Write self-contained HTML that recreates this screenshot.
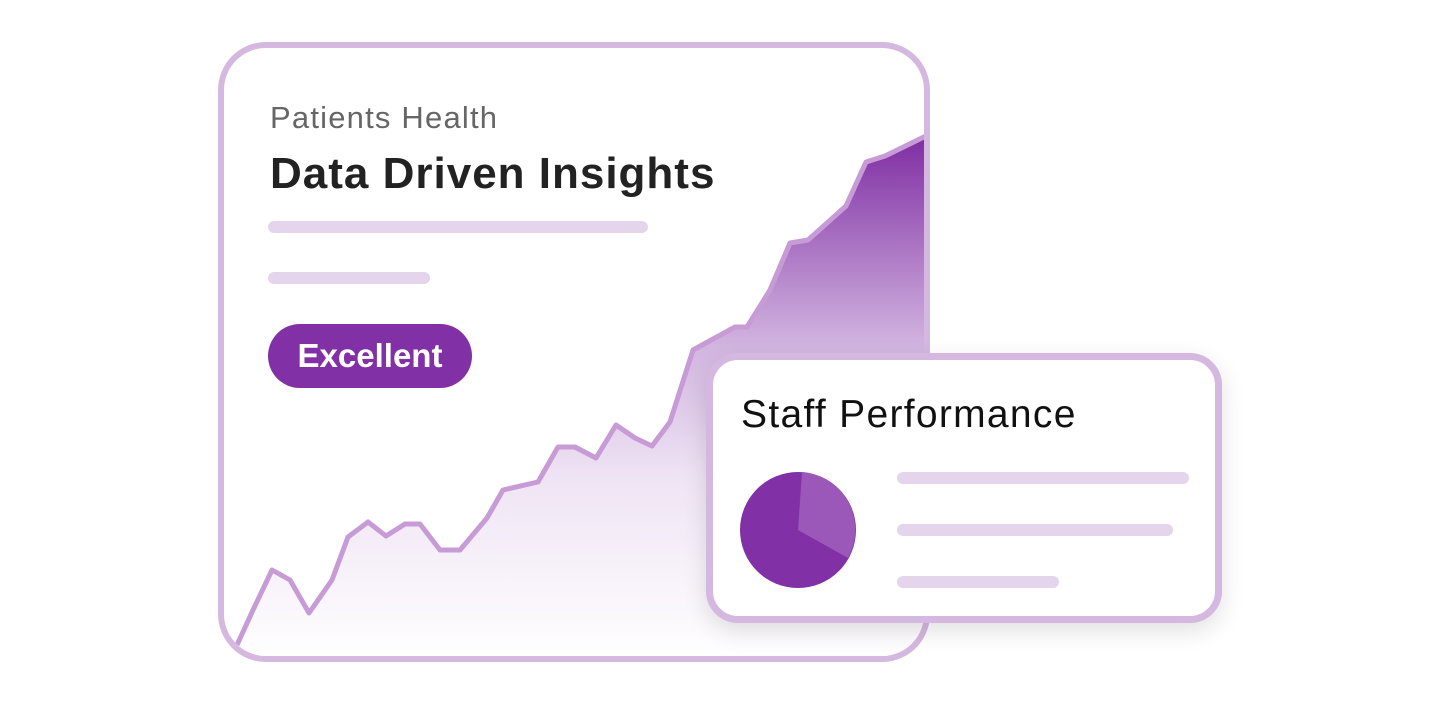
<!DOCTYPE html>
<html><head><style>
body{margin:0;width:1452px;height:704px;background:#fff;overflow:hidden;position:relative;font-family:"Liberation Sans",sans-serif}
.main{position:absolute;left:218px;top:42px;width:700px;height:608px;border:6px solid #d5b8e0;border-radius:48px;overflow:hidden;background:#fff}
.t1{position:absolute;left:270px;top:100px;font-size:31px;letter-spacing:1.2px;color:#666}
.t2{position:absolute;left:270px;top:149px;font-size:44px;letter-spacing:1px;font-weight:bold;color:#222}
.bar{position:absolute;height:12px;border-radius:6px;background:#e5d5ec}
.pill{position:absolute;left:268px;top:324px;width:204px;height:64px;border-radius:32px;background:#8130a5;color:#fff;font-weight:bold;font-size:33px;line-height:64px;text-align:center}
.card{position:absolute;left:706px;top:353px;width:502px;height:256px;border:7px solid #d5b8e0;border-radius:32px;background:#fff;box-shadow:0 8px 24px rgba(0,0,0,.12)}
.t3{position:absolute;left:741px;top:393px;font-size:39px;letter-spacing:1.3px;color:#111}
</style></head><body>
<div class="main">
<svg width="712" height="620" style="position:absolute;left:-6px;top:-6px" viewBox="218 42 712 620">
<defs><linearGradient id="g" gradientUnits="userSpaceOnUse" x1="0" y1="137" x2="0" y2="662"><stop offset="0" stop-color="#7f2ea3"/><stop offset="0.4" stop-color="#d2b5e0"/><stop offset="0.65" stop-color="#efe4f4"/><stop offset="1" stop-color="#fff"/></linearGradient></defs>
<path d="M237,645 L253,610 L272,570 L290,580 L309,613 L332,580 L348,537 L368,522 L386,536 L405,524 L420,524 L440,550 L460,550 L487,518 L503,490 L538,482 L558,447 L575,447 L596,458 L616,425 L635,438 L652,446 L670,422 L693,350 L735,327 L747,327 L770,290 L790,243 L808,240 L846,206 L866,162 L885,156 L930,134 L930,670 L230,670Z" fill="url(#g)"/>
<polyline points="237,645 253,610 272,570 290,580 309,613 332,580 348,537 368,522 386,536 405,524 420,524 440,550 460,550 487,518 503,490 538,482 558,447 575,447 596,458 616,425 635,438 652,446 670,422 693,350 735,327 747,327 770,290 790,243 808,240 846,206 866,162 885,156 930,134" fill="none" stroke="#c79bd6" stroke-width="5" stroke-linejoin="round"/>
</svg>
</div>
<div class="t1">Patients Health</div>
<div class="t2">Data Driven Insights</div>
<div class="bar" style="left:268px;top:221px;width:380px"></div>
<div class="bar" style="left:268px;top:272px;width:162px"></div>
<div class="pill">Excellent</div>
<div class="card"></div>
<div class="t3">Staff Performance</div>
<svg width="1452" height="704" style="position:absolute;left:0;top:0">
<circle cx="798" cy="530" r="58" fill="#8130a5"/>
<path d="M798,530 L802,472 A58,58 0 0 1 848,558 Z" fill="#9b58b8"/>
</svg>
<div class="bar" style="left:897px;top:472px;width:292px"></div>
<div class="bar" style="left:897px;top:524px;width:276px"></div>
<div class="bar" style="left:897px;top:576px;width:162px"></div>
</body></html>
